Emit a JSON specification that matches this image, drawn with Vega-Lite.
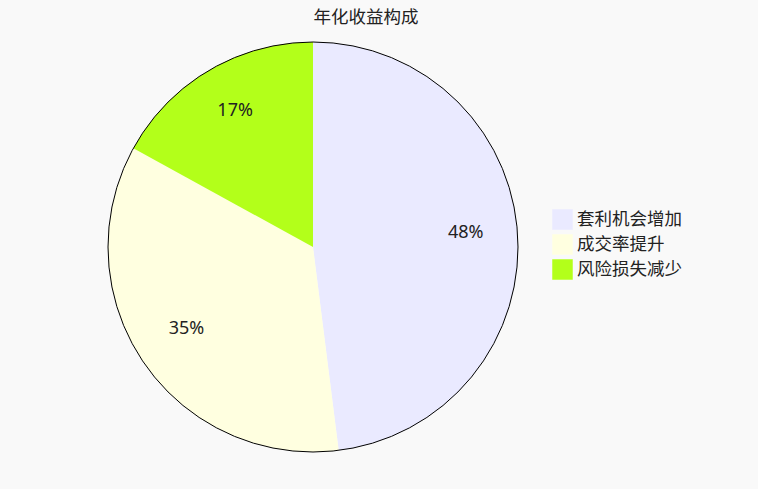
{
  "$schema": "https://vega.github.io/schema/vega-lite/v6.json",
  "width": 626,
  "height": 410,
  "autosize": {"type": "none"},
  "padding": {"left": 0, "top": 42, "right": 132, "bottom": 37},
  "background": "#f9f9f9",
  "title": {
    "text": "年化收益构成",
    "font": "Noto Sans CJK SC",
    "fontSize": 17.5,
    "fontWeight": "normal",
    "color": "#222",
    "anchor": "middle",
    "dx": 53,
    "offset": 14
  },
  "data": {
    "values": [
      {"idx": 1, "item": "套利机会增加", "pct": 48},
      {"idx": 2, "item": "成交率提升", "pct": 35},
      {"idx": 3, "item": "风险损失减少", "pct": 17}
    ]
  },
  "layer": [
    {
      "mark": {"type": "arc", "outerRadius": 205, "strokeWidth": 0},
      "encoding": {
        "theta": {"field": "pct", "type": "quantitative", "stack": true},
        "order": {"field": "idx", "type": "quantitative"},
        "color": {
          "field": "item",
          "type": "nominal",
          "title": null,
          "sort": ["套利机会增加", "成交率提升", "风险损失减少"],
          "scale": {
            "domain": ["套利机会增加", "成交率提升", "风险损失减少"],
            "range": ["#eaeaff", "#ffffe0", "#b3ff1a"]
          },
          "legend": {
            "orient": "none",
            "legendX": 552,
            "legendY": 167,
            "padding": 0,
            "symbolType": "square",
            "symbolSize": 420,
            "symbolStrokeWidth": 0,
            "symbolOpacity": 1,
            "rowPadding": 4,
            "labelOffset": 4,
            "labelFont": "Noto Sans CJK SC",
            "labelFontSize": 17.5,
            "labelColor": "#222",
            "labelLimit": 200
          }
        }
      }
    },
    {
      "transform": [{"aggregate": [{"op": "sum", "field": "pct", "as": "total"}]}],
      "mark": {"type": "arc", "outerRadius": 205, "fill": null, "filled": false, "stroke": "#000", "strokeWidth": 1},
      "encoding": {
        "theta": {"field": "total", "type": "quantitative"}
      }
    },
    {
      "mark": {"type": "text", "radius": 153, "dy": -4, "font": "Noto Sans", "fontSize": 18, "color": "#222", "baseline": "middle", "align": "center"},
      "encoding": {
        "theta": {"field": "pct", "type": "quantitative", "stack": true},
        "order": {"field": "idx", "type": "quantitative"},
        "text": {"field": "label", "type": "nominal"}
      },
      "transform": [{"calculate": "datum.pct + '%'", "as": "label"}]
    }
  ],
  "config": {"view": {"stroke": null}}
}
